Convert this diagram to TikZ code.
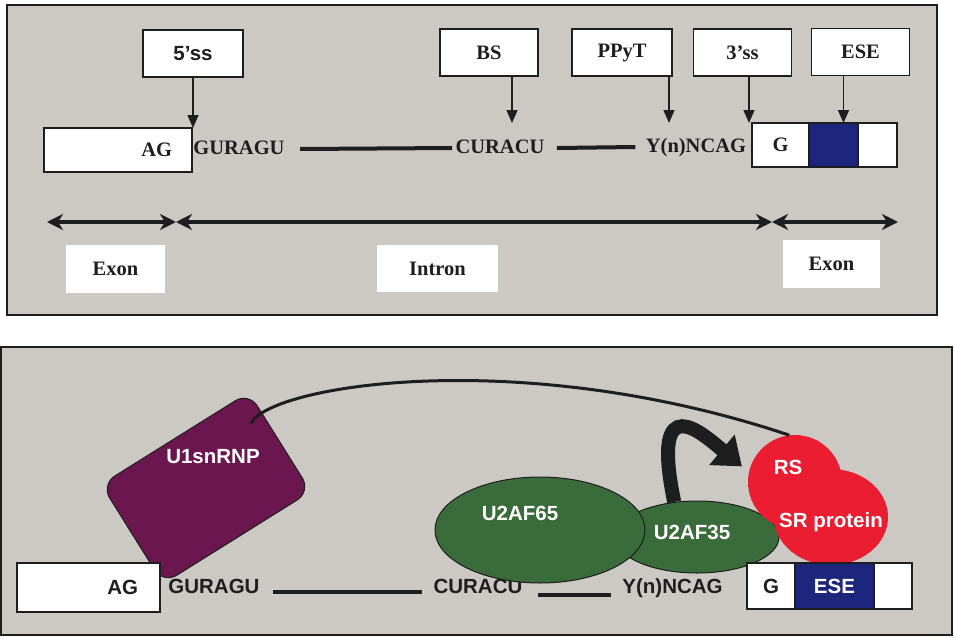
\documentclass[tikz,border=0pt]{standalone}
\usepackage{fontspec}
\setmainfont{Liberation Serif}
\setsansfont{Liberation Sans}
\usepackage{tikz}
\usetikzlibrary{arrows.meta, positioning, calc, shapes.geometric}
\definecolor{mygray}{RGB}{204,201,197}
\definecolor{mydark}{RGB}{30,30,30}
\definecolor{myblue}{RGB}{28,38,125}
\definecolor{mypurple}{RGB}{108,22,80}
\definecolor{mygreen}{RGB}{58,107,58}
\definecolor{myred}{RGB}{234,30,48}
\newcommand{\serifbf}{\fontsize{20.5}{24}\selectfont\bfseries}
\newcommand{\sansbf}{\fontsize{20.5}{24}\selectfont\sffamily\bfseries}
\tikzset{
  panel/.style={draw=mydark, fill=mygray, line width=1.5pt},
  tagbox/.style={rectangle, draw=mydark, fill=white, line width=1.4pt,
    minimum width=98pt, minimum height=47pt, font=\serifbf, text=mydark},
  exonbox/.style={rectangle, draw=mydark, fill=white, line width=1.4pt,
    minimum height=44pt, inner sep=0pt, outer sep=0pt, font=\serifbf, text=mydark},
  lblbox/.style={rectangle, fill=white, font=\serifbf, text=mydark},
  seqtxt/.style={font=\serifbf, text=mydark, text height=14pt, text depth=4pt},
  seqsans/.style={font=\sansbf, text=mydark, text height=14pt, text depth=4pt},
  ptext/.style={font=\sansbf, text=white},
  blob/.style={ellipse, draw=mydark, fill=mygreen, line width=1pt},
  seqline/.style={line width=4pt, color=mydark},
  pointer/.style={-{Triangle[width=11pt,length=13pt]}, line width=1.5pt, color=mydark},
  span/.style={{Stealth[length=16pt,width=16pt,inset=5pt]}-{Stealth[length=16pt,width=16pt,inset=5pt]},
    line width=4pt, color=mydark},
  link/.style={line width=3pt, color=mydark},
  bigarrow/.style={-{Triangle[width=38pt,length=26pt]}, line width=14pt, color=mydark}
}

\begin{document}
\begin{tikzpicture}[x=1pt, y=-1pt]
  \useasboundingbox (0,0) rectangle (954,638);
  % top panel
  \draw[panel] (7,5) rectangle (937,315);
  \node[tagbox, font=\sansbf, minimum width=100pt] (ss5) at (193,53.5) {5'ss};
  \node[tagbox] (bs) at (489,52.5) {BS};
  \node[tagbox, minimum width=100pt] (ppyt) at (622,52.5) {PPyT};
  \node[tagbox] (ss3) at (742.5,52.5) {3'ss};
  \node[tagbox] (ese) at (860.5,52) {ESE};
  \node[exonbox, minimum width=148pt, text width=108pt, inner xsep=20pt,
    align=right] (exonL) at (118,150) {AG};
  \node[seqtxt] (gur) at (239,149) {GURAGU};
  \node[seqtxt] (cur) at (500,148) {CURACU};
  \node[seqtxt] (yn) at (696,147) {Y(n)NCAG};
  \node[exonbox, minimum width=57pt] (gR) at (780.5,145) {G};
  \node[exonbox, fill=myblue, minimum width=49pt, right=0pt of gR] (eseR) {};
  \node[exonbox, minimum width=39pt, right=0pt of eseR] (tailR) {};
  \draw[seqline] ([xshift=12pt]gur.east) -- (cur.west);
  \draw[seqline] ([xshift=9pt]cur.east) -- ([xshift=-7pt]yn.west);
  \draw[pointer] (ss5.south) -- (ss5.south |- exonL.north);
  \draw[pointer] ([xshift=23pt]bs.south) -- ([xshift=23pt]bs.south |- gR.north);
  \draw[pointer] ([xshift=47pt]ppyt.south) -- ([xshift=47pt]ppyt.south |- gR.north);
  \draw[pointer] ([xshift=6.5pt]ss3.south) -- ([xshift=6.5pt]ss3.south |- gR.north);
  \draw[pointer] ([xshift=-17pt]ese.south) -- ([xshift=-17pt]ese.south |- eseR.north);
  \coordinate (a0) at (47,222);
  \coordinate (a1) at (176,222);
  \coordinate (a2) at (772,222);
  \coordinate (a3) at (898,222);
  \draw[span] (a0) -- (a1);
  \draw[span] (a1) -- (a2);
  \draw[span] (a2) -- (a3);
  \node[lblbox, minimum width=99pt, minimum height=48pt] (exL) at (115.5,269) {Exon};
  \node[lblbox, minimum width=121pt, minimum height=47pt] (intron) at (437.5,268.5) {Intron};
  \node[lblbox, minimum width=97pt, minimum height=48pt] (exR) at (831.5,264) {Exon};

  % bottom panel
  \draw[panel] (1,347) rectangle (952,635);
  \node[rectangle, rounded corners=16pt, draw=mydark, fill=mypurple, line width=1pt,
    rotate=32, minimum width=174pt, minimum height=117pt] (u1) at (206,488) {};
  \node[ptext] (u1txt) at (213,457) {U1snRNP};
  \node[exonbox, font=\sansbf, minimum width=143pt, minimum height=49pt, text width=99pt,
    inner xsep=22pt, align=right] (exonL2) at (88.5,587.5) {AG};
  \node[seqsans] (gur2) at (214,588) {GURAGU};
  \node[seqsans] (cur2) at (478,588) {CURACU};
  \node[seqsans] (yn2) at (672.5,588) {Y(n)NCAG};
  \draw[seqline, line width=3.5pt] ([xshift=10pt,yshift=-4pt]gur2.east) -- ([xshift=-8pt,yshift=-4pt]cur2.west);
  \draw[seqline, line width=3.5pt] ([xshift=12pt,yshift=-7pt]cur2.east) -- ([xshift=-8pt,yshift=-7pt]yn2.west);
  \node[blob, minimum width=164pt, minimum height=72pt] (u2af35) at (697,537) {};
  \node[blob, minimum width=210pt, minimum height=106pt] (u2af65) at (540,530) {};
  \node[ptext] at ([xshift=-20pt,yshift=17pt]u2af65.center) {U2AF65};
  \node[ptext] at ([xshift=-5pt,yshift=5pt]u2af35.center) {U2AF35};
  \node[circle, fill=myred, minimum size=94pt] (rs) at (795,482) {};
  \node[ellipse, fill=myred, minimum width=114pt, minimum height=96pt] (srp) at (831,517) {};
  \node[ptext] at ([xshift=-7pt,yshift=15pt]rs.center) {RS};
  \node[ptext] at ([yshift=-5pt]srp.center) {SR protein};
  \node[exonbox, font=\sansbf, minimum width=48pt, minimum height=46pt] (gR2) at (771,586) {G};
  \node[exonbox, font=\sansbf, fill=myblue, text=white, minimum width=79pt,
    minimum height=46pt, right=0pt of gR2] (eseR2) {ESE};
  \node[exonbox, minimum width=38pt, minimum height=46pt, right=0pt of eseR2] (tailR2) {};
  \draw[bigarrow, shorten >=9pt] (u2af35.123) .. controls (650,385) and (703,434) .. (rs.168);
  \coordinate (u1tail) at ($(u1.center)!0.75!(u1.north east)!0.3!(u1.east)$);
  \draw[link] (u1tail) .. controls (270,385) and (520,345) .. (rs.97);
\end{tikzpicture}
\end{document}
